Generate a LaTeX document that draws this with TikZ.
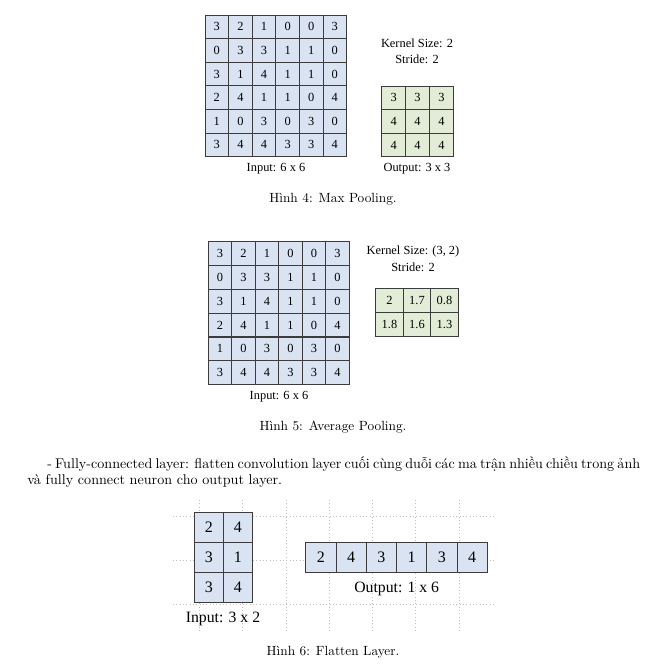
\documentclass[tikz,border=0pt]{standalone}
\usepackage{fontspec}
\newfontfamily\tnr{Liberation Serif}
\definecolor{inblue}{RGB}{218,227,242}
\definecolor{outgreen}{RGB}{227,236,215}
\definecolor{gridline}{RGB}{60,60,60}
\definecolor{dotgray}{RGB}{190,190,190}
\tikzset{
  cellbase/.style={draw=gridline, line width=0.6pt, inner sep=0pt, anchor=center},
  smallcell/.style={cellbase, fill=inblue, minimum width=17.7pt, minimum height=17.7pt, font=\tnr\fontsize{9.3}{11}\selectfont},
  greencell/.style={cellbase, fill=outgreen, minimum width=17.8pt, minimum height=17.8pt, font=\tnr\fontsize{9.3}{11}\selectfont},
  widegreen/.style={cellbase, fill=outgreen, minimum width=20.6pt, minimum height=17.8pt, font=\tnr\fontsize{9.3}{11}\selectfont},
  bigcell/.style={cellbase, fill=inblue, minimum width=21.8pt, minimum height=22.5pt, font=\tnr\fontsize{12}{14}\selectfont},
  figlabel/.style={inner sep=0pt, anchor=center, font=\tnr\fontsize{9.3}{11}\selectfont},
  biglabel/.style={inner sep=0pt, anchor=center, font=\tnr\fontsize{11.8}{14}\selectfont},
  captionnode/.style={inner sep=0pt, anchor=base, font=\fontsize{10}{12}\selectfont},
  dotline/.style={draw=dotgray, line width=0.5pt, dash pattern=on 0.5pt off 2pt}
}
\begin{document}
\begin{tikzpicture}[x=0.75pt,y=-0.75pt]
\useasboundingbox (0,0) rectangle (652,665);

% ---------- Figure 4: Max pooling ----------
\foreach \rowvals [count=\r] in {{3,2,1,0,0,3},{0,3,3,1,1,0},{3,1,4,1,1,0},{2,4,1,1,0,4},{1,0,3,0,3,0},{3,4,4,3,3,4}}{
  \foreach \v [count=\c] in \rowvals {
    \node[smallcell] (ma-\r-\c) at ({205+23.6*(\c-0.5)},{15+23.6*(\r-0.5)}) {\v};
  }
}
\foreach \rowvals [count=\r] in {{3,3,3},{4,4,4},{4,4,4}}{
  \foreach \v [count=\c] in \rowvals {
    \node[greencell] (mo-\r-\c) at ({381.7+23.9*(\c-0.5)},{86+23.6*(\r-0.5)}) {\v};
  }
}
\node[figlabel] (mk) at (417,43) {Kernel Size: 2};
\node[figlabel] (ms) at (417,59) {Stride: 2};
\node[figlabel] (mi) at (276,169) {Input: 6 x 6};
\node[figlabel] (mout) at (417,169) {Output: 3 x 3};
\node[captionnode] (cap4) at (333,202) {Hình 4: Max Pooling.};

% ---------- Figure 5: Average pooling ----------
\foreach \rowvals [count=\r] in {{3,2,1,0,0,3},{0,3,3,1,1,0},{3,1,4,1,1,0},{2,4,1,1,0,4},{1,0,3,0,3,0},{3,4,4,3,3,4}}{
  \foreach \v [count=\c] in \rowvals {
    \node[smallcell] (aa-\r-\c) at ({208.3+23.5*(\c-0.5)},{241.7+23.8*(\r-0.5)}) {\v};
  }
}
\foreach \rowvals [count=\r] in {{2,1.7,0.8},{1.8,1.6,1.3}}{
  \foreach \v [count=\c] in \rowvals {
    \node[widegreen] (ao-\r-\c) at ({375.7+27.5*(\c-0.5)},{288.3+23.85*(\r-0.5)}) {\v};
  }
}
\node[figlabel] (ak) at (413,251.7) {Kernel Size: (3, 2)};
\node[figlabel] (as) at (413,267.3) {Stride: 2};
\node[figlabel] (ai) at (279,396.7) {Input: 6 x 6};
\node[captionnode] (cap5) at (333,430) {Hình 5: Average Pooling.};

% ---------- Paragraph ----------
\node[inner sep=0pt, anchor=base west, font=\fontsize{10.6}{12}\selectfont] (para) at (27,468.5) {%
\begin{minipage}[t]{459.75pt}\setlength{\parindent}{15pt}\indent - Fully-connected layer: flatten convolution layer cuối cùng duỗi các ma trận nhiều chiều trong ảnh\linebreak và fully connect neuron cho output layer.\end{minipage}};

% ---------- Figure 6: Flatten ----------
\foreach \xx [count=\i] in {199.3,242.7,286,329.3,372.5,415.7,458.9}{
  \coordinate (vt-\i) at (\xx,500);
  \coordinate (vb-\i) at (\xx,632);
  \draw[dotline] (vt-\i) -- (vb-\i);
}
\foreach \yy [count=\i] in {516.7,560.7,604.3}{
  \coordinate (hl-\i) at (173,\yy);
  \coordinate (hr-\i) at (496,\yy);
  \draw[dotline] (hl-\i) -- (hr-\i);
}
\foreach \rowvals [count=\r] in {{2,4},{3,1},{3,4}}{
  \foreach \v [count=\c] in \rowvals {
    \node[bigcell, minimum width=21.75pt] (fi-\r-\c) at ({194.3+29*(\c-0.5)},{512.3+30*(\r-0.5)}) {\v};
  }
}
\foreach \v [count=\c] in {2,4,3,1,3,4}{
  \node[bigcell, minimum width=22.7pt] (fo-\c) at ({305.7+30.27*(\c-0.5)},557) {\v};
}
\node[biglabel] (fin) at (223,619) {Input: 3 x 2};
\node[biglabel] (fout) at (396.7,589.3) {Output: 1 x 6};
\node[captionnode] (cap6) at (333,655) {Hình 6: Flatten Layer.};
\end{tikzpicture}
\end{document}
